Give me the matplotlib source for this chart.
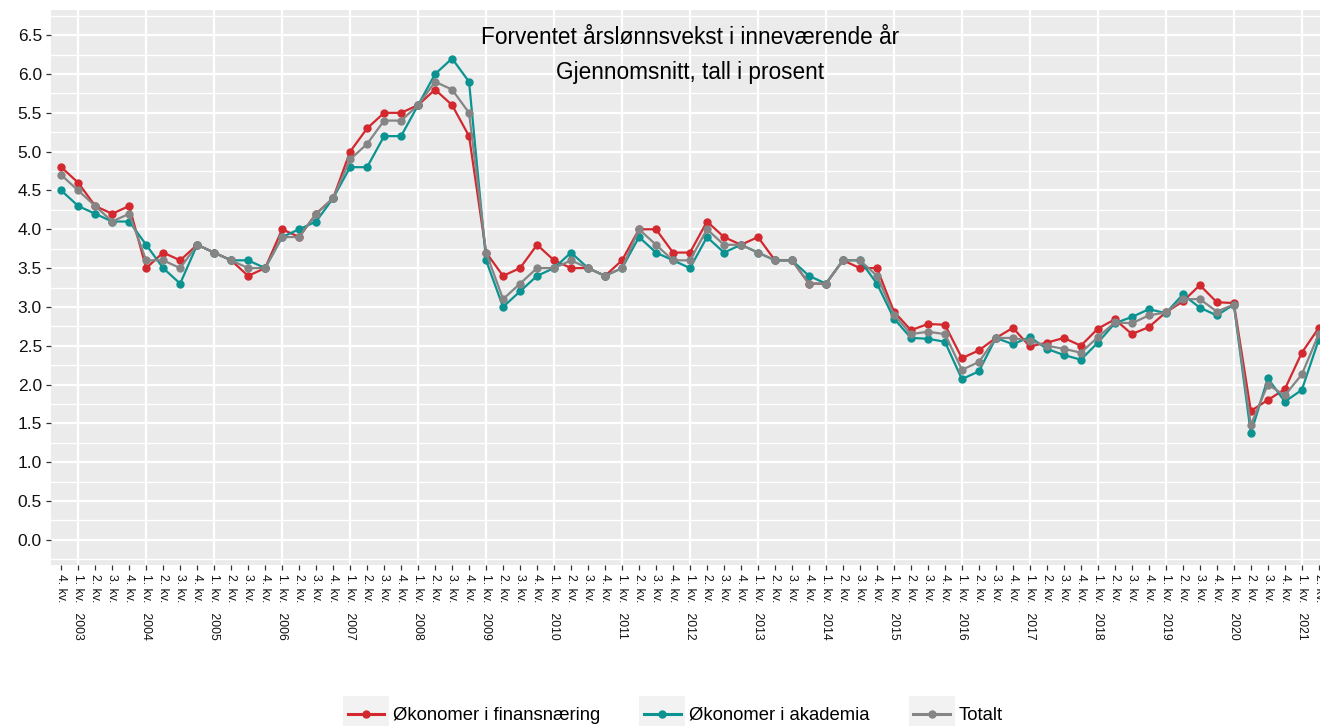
import numpy as np
import matplotlib
matplotlib.use('Agg')
import matplotlib.pyplot as plt
from matplotlib.legend_handler import HandlerBase
from matplotlib.lines import Line2D
from matplotlib.patches import Rectangle

plt.rcParams['font.family'] = ['Liberation Sans', 'DejaVu Sans']

# quarters: 4. kv. 2002 ... 2. kv. 2021
start_year = 2002
start_q = 4
n_quarters = 75

finans = [4.8, 4.6, 4.3, 4.2, 4.3, 3.5, 3.7, 3.6, 3.8, 3.7, 3.6, 3.4, 3.5, 4.0, 3.9, 4.2,
          4.4, 5.0, 5.3, 5.5, 5.5, 5.6, 5.8, 5.6, 5.2, 3.7, 3.4, 3.5, 3.8, 3.6, 3.5, 3.5,
          3.4, 3.6, 4.0, 4.0, 3.7, 3.7, 4.1, 3.9, 3.8, 3.9, 3.6, 3.6, 3.3, 3.3, 3.6, 3.5,
          3.5, 2.94, 2.70, 2.78, 2.77, 2.34, 2.44, 2.60, 2.73, 2.49, 2.54, 2.60, 2.50, 2.72,
          2.84, 2.65, 2.74, 2.93, 3.07, 3.28, 3.06, 3.05, 1.66, 1.80, 1.94, 2.41, 2.73]
akademia = [4.5, 4.3, 4.2, 4.1, 4.1, 3.8, 3.5, 3.3, 3.8, 3.7, 3.6, 3.6, 3.5, 3.9, 4.0, 4.1,
            4.4, 4.8, 4.8, 5.2, 5.2, 5.6, 6.0, 6.2, 5.9, 3.6, 3.0, 3.2, 3.4, 3.5, 3.7, 3.5,
            3.4, 3.5, 3.9, 3.7, 3.6, 3.5, 3.9, 3.7, 3.8, 3.7, 3.6, 3.6, 3.4, 3.3, 3.6, 3.6,
            3.3, 2.85, 2.60, 2.59, 2.55, 2.07, 2.17, 2.60, 2.52, 2.61, 2.46, 2.38, 2.32, 2.54,
            2.79, 2.87, 2.97, 2.92, 3.16, 2.99, 2.89, 3.03, 1.37, 2.08, 1.78, 1.93, 2.58]
totalt = [4.7, 4.5, 4.3, 4.1, 4.2, 3.6, 3.6, 3.5, 3.8, 3.7, 3.6, 3.5, 3.5, 3.9, 3.9, 4.2,
          4.4, 4.9, 5.1, 5.4, 5.4, 5.6, 5.9, 5.8, 5.5, 3.7, 3.1, 3.3, 3.5, 3.5, 3.6, 3.5,
          3.4, 3.5, 4.0, 3.8, 3.6, 3.6, 4.0, 3.8, 3.8, 3.7, 3.6, 3.6, 3.3, 3.3, 3.6, 3.6,
          3.4, 2.90, 2.65, 2.68, 2.65, 2.19, 2.29, 2.60, 2.60, 2.56, 2.50, 2.46, 2.41, 2.61,
          2.80, 2.79, 2.89, 2.93, 3.10, 3.10, 2.94, 3.03, 1.48, 2.00, 1.86, 2.13, 2.65]

labels = []
year, q = start_year, start_q
for k in range(n_quarters):
    if q == 1:
        labels.append(f'{q}. kv.   {year}')
    else:
        labels.append(f'{q}. kv.')
    q += 1
    if q > 4:
        q = 1
        year += 1

series = [('Økonomer i finansnæring', finans, '#D2282E'),
          ('Økonomer i akademia', akademia, '#0A9391'),
          ('Totalt', totalt, '#858585')]


class BoxHandler(HandlerBase):
    def create_artists(self, legend, orig_handle, xdescent, ydescent, width, height, fontsize, trans):
        box = Rectangle((-xdescent, -ydescent), width, height, facecolor='#F2F2F2',
                        edgecolor='none', transform=trans)
        yc = -ydescent + height / 2
        line = Line2D([-xdescent + 0.1 * width, -xdescent + 0.9 * width], [yc, yc],
                      color=orig_handle.get_color(), lw=2.2, transform=trans)
        mk = Line2D([-xdescent + 0.5 * width], [yc], marker='o', markersize=5,
                    color=orig_handle.get_color(), transform=trans)
        return [box, line, mk]


fig = plt.figure(figsize=(13.2, 7.26), dpi=100)
W, H = 1320, 726
left_px, right_px, top_px, bot_px = 51, 1329, 10, 565
ax = fig.add_axes([left_px / W, 1 - bot_px / H, (right_px - left_px) / W, (bot_px - top_px) / H])
ax.set_facecolor('#EBEBEB')

x = np.arange(n_quarters)
handles = []
for name, vals, col in series:
    h, = ax.plot(x, vals, color=col, lw=1.6, marker='o', markersize=5, label=name, zorder=3)
    handles.append(h)

ax.set_xlim(-0.6, n_quarters - 0.4)
ax.set_ylim(-0.325, 6.825)
ax.set_yticks(np.arange(0, 6.51, 0.5))
ax.set_yticklabels([f'{v:.1f}' for v in np.arange(0, 6.51, 0.5)])
ax.set_xticks(x)
ax.set_xticklabels(labels, rotation=-90, fontsize=8.8, va='top', ha='center')

for yv in np.arange(0, 6.51, 0.5):
    ax.axhline(yv, color='white', lw=1.6, zorder=1)
for yv in np.arange(-0.25, 6.8, 0.5):
    ax.axhline(yv, color='white', lw=1.0, zorder=1)
for i, lab in enumerate(labels):
    if lab.startswith('1.'):
        ax.axvline(i, color='white', lw=1.6, zorder=1)

for s in ax.spines.values():
    s.set_visible(False)
ax.tick_params(axis='y', length=3.5, width=0.9, color='#333333',
               labelsize=12.5, labelcolor='#111111', pad=3)
ax.tick_params(axis='x', length=3.5, width=0.9, color='#333333', labelcolor='#111111', pad=3)

ax.text(690 / W, 1 - 37 / H, 'Forventet årslønnsvekst i inneværende år', transform=fig.transFigure,
        ha='center', va='center', fontsize=16.3)
ax.text(690 / W, 1 - 72 / H, 'Gjennomsnitt, tall i prosent', transform=fig.transFigure,
        ha='center', va='center', fontsize=16.3)

fig.legend(handles=handles, loc='center', bbox_to_anchor=(673 / W, 1 - 714 / H), ncol=3,
           frameon=False, fontsize=13.3, handlelength=2.5, handleheight=2.6,
           handletextpad=0.22, columnspacing=2.1, borderpad=0,
           handler_map={Line2D: BoxHandler()})

fig.savefig('out.png', dpi=100)
